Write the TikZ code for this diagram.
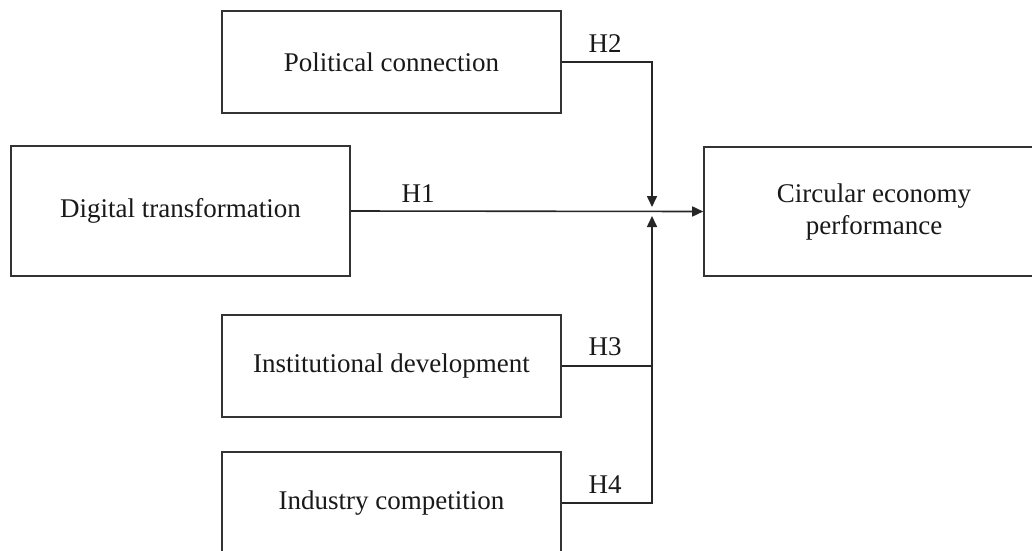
\documentclass[tikz,border=0pt]{standalone}
\usepackage{fontspec}
\setmainfont{Liberation Serif}
\usetikzlibrary{arrows.meta}
\begin{document}
\begin{tikzpicture}[x=1pt,y=-1pt,
  box/.style={draw=black!80,line width=1.6pt,minimum width=339pt,minimum height=102pt,inner sep=0pt,align=center,font=\fontsize{27}{32}\selectfont,text=black!90},
  conn/.style={draw=black!85,line width=1.6pt},
  arr/.style={conn,-{Triangle[length=11pt,width=10pt]}},
  lab/.style={font=\fontsize{27}{32}\selectfont,text=black!90,inner sep=0pt,anchor=base}]
\clip (0,0) rectangle (1032,550);
\fill[white] (0,0) rectangle (1032,550);
\node[box] (pc) at (391.5,62) {Political connection};
\node[box,minimum height=130pt] (dt) at (180.5,211) {Digital transformation};
\node[box] (id) at (391.5,366) {Institutional development};
\node[box] (ic) at (391.5,503) {Industry competition};
\node[box,minimum width=340pt,minimum height=129pt] (ce) at (874,211.5) {Circular economy\\performance};
\coordinate (jt) at (652,207);
\coordinate (jb) at (652,216);
\draw[arr] (dt.east) -- (ce.west);
\draw[arr] (pc.east) -| (jt);
\draw[arr] (ic.east) -| (jb);
\draw[conn] (id.east) -- (id.east -| jb);
\node[lab] (h1) at (418,202) {H1};
\node[lab] (h2) at (605,52) {H2};
\node[lab] (h3) at (605,355) {H3};
\node[lab] (h4) at (605,493) {H4};
\end{tikzpicture}
\end{document}
